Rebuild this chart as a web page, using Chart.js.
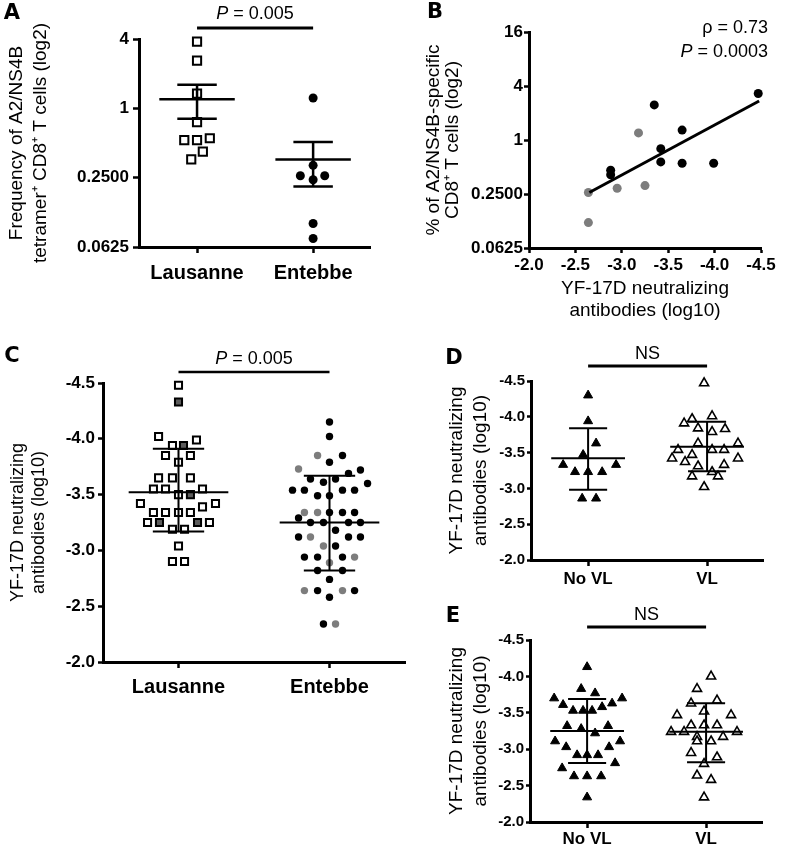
<!DOCTYPE html>
<html>
<head>
<meta charset="utf-8">
<script src="https://cdn.jsdelivr.net/npm/chart.js@4.4.1/dist/chart.umd.min.js"></script>
<style>
  body { margin: 0; background: #fff; width: 785px; height: 846px; position: relative; overflow: hidden; }
  canvas { position: absolute; }
  .panel-letter { position: absolute; font-family: 'DejaVu Sans', sans-serif; font-weight: bold; font-size: 21px; transform: translate(-50%, -50%); }
</style>
</head>
<body>
<canvas id="chartA" width="385" height="300" style="left:0px;top:0px"></canvas>
<canvas id="chartB" width="385" height="326" style="left:400px;top:0px"></canvas>
<canvas id="chartC" width="420" height="380" style="left:0px;top:340px"></canvas>
<canvas id="chartD" width="365" height="255" style="left:420px;top:340px"></canvas>
<canvas id="chartE" width="365" height="248" style="left:420px;top:598px"></canvas>
<div class="panel-letter" style="left:12px;top:12px">A</div>
<div class="panel-letter" style="left:435px;top:11px">B</div>
<div class="panel-letter" style="left:12px;top:355px">C</div>
<div class="panel-letter" style="left:454px;top:357px">D</div>
<div class="panel-letter" style="left:453px;top:615px">E</div>
<script>
// ---- Panel A: frequency of tetramer+ CD8+ T cells ----
const aCategories = ['Lausanne', 'Entebbe'];
const aYTicks = [0.0625, 0.25, 1, 4];
const aYTickLabels = ['0.0625', '0.2500', '1', '4'];
const aLausanneX = [1.0, 1.0, 1.0, 1.0, 0.89, 1.0, 1.11, 1.05, 0.95];
const aLausanneY = [3.8, 2.6, 1.34, 0.76, 0.53, 0.53, 0.55, 0.42, 0.36];
const aEntebbeX = [2.0, 2.0, 1.89, 2.1, 2.0, 2.0, 2.0];
const aEntebbeY = [1.23, 0.32, 0.26, 0.26, 0.24, 0.10, 0.074];
const aMean = [1.2, 0.36];
const aErrHigh = [1.6, 0.51];
const aErrLow = [0.81, 0.21];
const aPValue = ' = 0.005';

// ---- Panel B: correlation ----
const bXTicks = [-2.0, -2.5, -3.0, -3.5, -4.0, -4.5];
const bYTicks = [0.0625, 0.25, 1, 4, 16];
const bYTickLabels = ['0.0625', '0.2500', '1', '4', '16'];
const bBlackX = [-4.47, -3.35, -3.65, -3.42, -3.42, -3.65, -3.99, -2.88, -2.88];
const bBlackY = [3.3, 2.46, 1.29, 0.8, 0.57, 0.55, 0.55, 0.46, 0.41];
const bGrayX = [-3.18, -3.25, -2.95, -2.64, -2.64];
const bGrayY = [1.2, 0.31, 0.29, 0.26, 0.12];
const bFitX = [-2.65, -4.48];
const bFitY = [0.26, 2.72];
const bRho = ' = 0.73';
const bPValue = ' = 0.0003';

// ---- Panel C: neutralizing antibodies by site ----
const cCategories = ['Lausanne', 'Entebbe'];
const nabTicks = [-4.5, -4.0, -3.5, -3.0, -2.5, -2.0];
const cLausOpenX = [1.0, 0.868, 0.96, 1.119, 0.914, 1.079, 1.0, 0.868, 0.96, 1.079, 0.834, 0.914, 1.0, 1.159,
  0.748, 0.834, 0.914, 1.0, 1.079, 1.159, 1.245, 0.795, 1.205, 0.96, 1.04, 1.0, 0.96, 1.04];
const cLausOpenY = [-4.48, -4.02, -3.94, -3.99, -3.85, -3.85, -3.79, -3.65, -3.65, -3.65, -3.55, -3.55, -3.5, -3.55,
  -3.42, -3.34, -3.34, -3.34, -3.34, -3.39, -3.42, -3.25, -3.25, -3.19, -3.19, -3.04, -2.9, -2.9];
const cLausGrayX = [1.0, 1.033, 1.079, 0.874, 1.126];
const cLausGrayY = [-4.33, -3.94, -3.5, -3.25, -3.25];
const cEntBlackX = [2.0, 2.0, 2.086, 2.0, 2.126, 2.205, 1.874, 1.96, 2.04, 2.252, 1.755, 1.834, 2.086, 2.166,
  1.921, 2.0, 2.0, 2.086, 2.166, 1.795, 1.874, 1.96, 2.126, 2.205, 2.04, 1.795, 2.126, 2.205, 2.04, 1.834,
  1.921, 2.086, 1.921, 2.086, 2.0, 1.921, 2.166, 2.0, 1.96];
const cEntBlackY = [-4.15, -4.02, -3.85, -3.79, -3.69, -3.72, -3.64, -3.61, -3.64, -3.6, -3.54, -3.54, -3.54, -3.54,
  -3.49, -3.49, -3.34, -3.34, -3.34, -3.29, -3.25, -3.25, -3.25, -3.25, -3.18, -3.12, -3.12, -3.12, -3.04, -2.94,
  -2.94, -2.94, -2.82, -2.82, -2.74, -2.64, -2.64, -2.58, -2.34];
const cEntGrayX = [1.921, 1.795, 1.834, 1.921, 1.874, 1.96, 2.166, 2.0, 1.834, 2.086, 2.04];
const cEntGrayY = [-3.85, -3.73, -3.34, -3.34, -3.12, -3.04, -2.94, -2.89, -2.64, -2.64, -2.34];
const cMean = [-3.52, -3.25];
const cErrHigh = [-3.91, -3.67];
const cErrLow = [-3.17, -2.82];
const cPValue = ' = 0.005';

// ---- Panel D ----
const vlCategories = ['No VL', 'VL'];
const dNoVlX = [1.0, 1.0, 1.067, 0.958, 0.79, 1.235, 0.89, 1.0, 1.118, 0.95, 1.067];
const dNoVlY = [-4.3, -3.94, -3.63, -3.47, -3.33, -3.33, -3.23, -3.23, -3.23, -2.86, -2.86];
const dVlX = [1.975, 1.807, 1.874, 2.042, 1.924, 2.151, 2.042, 1.924, 2.26, 1.756, 2.042, 2.143, 1.874, 1.706,
  1.815, 2.26, 1.924, 2.143, 1.874, 2.042, 2.092, 1.975];
const dVlY = [-4.47, -3.91, -3.97, -4.01, -3.84, -3.83, -3.79, -3.63, -3.63, -3.54, -3.54, -3.54, -3.47, -3.42,
  -3.37, -3.42, -3.31, -3.33, -3.17, -3.23, -3.17, -3.02];
const dMean = [-3.42, -3.58];
const dErrHigh = [-3.84, -3.93];
const dErrLow = [-2.98, -3.24];

// ---- Panel E ----
const eNoVlX = [1.0, 0.723, 0.95, 1.067, 1.294, 0.798, 0.882, 0.966, 1.042, 1.126, 1.21, 0.832, 0.95, 1.067,
  1.176, 0.731, 1.277, 0.824, 1.185, 0.916, 1.0, 1.092, 0.79, 1.235, 0.89, 1.0, 1.118, 1.0];
const eNoVlY = [-4.13, -3.7, -3.83, -3.77, -3.7, -3.61, -3.53, -3.53, -3.53, -3.58, -3.63, -3.32, -3.28, -3.22,
  -3.32, -3.11, -3.11, -3.03, -3.03, -2.92, -2.92, -2.92, -2.74, -2.81, -2.63, -2.63, -2.63, -2.34];
const eVlX = [2.042, 1.924, 1.874, 2.092, 1.983, 1.756, 2.21, 1.874, 1.983, 2.092, 1.706, 1.815, 2.26, 1.924,
  2.143, 1.924, 2.042, 1.874, 2.092, 1.983, 1.924, 2.042, 1.983];
const eVlY = [-4.0, -3.83, -3.63, -3.67, -3.52, -3.47, -3.47, -3.33, -3.33, -3.33, -3.24, -3.24, -3.24, -3.17,
  -3.17, -3.11, -3.11, -2.95, -2.89, -2.8, -2.64, -2.58, -2.34];
const eMean = [-3.25, -3.24];
const eErrHigh = [-3.69, -3.63];
const eErrLow = [-2.81, -2.82];

const nabTitle = ['YF-17D neutralizing', 'antibodies (log10)'];

// ---- helpers ----
const FONT = "'Liberation Sans', Arial, Helvetica, sans-serif";
Chart.defaults.font.family = FONT;
Chart.defaults.color = '#000';

function pts(xs, ys) {
  return xs.map((x, i) => ({ x: x, y: ys[i] }));
}

function pointSet(xs, ys, style) {
  return Object.assign({ data: pts(xs, ys), order: 1, clip: false, pointHoverRadius: 0 }, style);
}

function segment(data, width) {
  return { data: data, showLine: true, borderColor: '#000', borderWidth: width, pointRadius: 0, order: 0, clip: false };
}

// mean line plus whiskers for each group (group i sits at x = i + 1)
function errorBars(means, hi, lo, halfMean, halfCap, width) {
  const sets = [];
  means.forEach((m, i) => {
    const c = i + 1;
    sets.push(segment([{ x: c - halfMean, y: m }, { x: c + halfMean, y: m }], width));
    sets.push(segment([{ x: c - halfCap, y: hi[i] }, { x: c + halfCap, y: hi[i] }], width));
    sets.push(segment([{ x: c - halfCap, y: lo[i] }, { x: c + halfCap, y: lo[i] }], width));
    sets.push(segment([{ x: c, y: hi[i] }, { x: c, y: lo[i] }], width));
  });
  return sets;
}

const border = { display: true, color: '#000', width: 3 };
function grid(len) {
  return { drawOnChartArea: false, drawTicks: true, tickLength: len, tickWidth: 2.5, tickColor: '#000' };
}

function catAxis(labels, min, max, height, pad, size) {
  return {
    type: 'linear', min: min, max: max,
    afterBuildTicks: s => { s.ticks = labels.map((l, i) => ({ value: i + 1 })); },
    afterFit: s => { s.height = height; },
    ticks: { callback: (v, i) => labels[i], padding: pad, font: { size: size, weight: 'bold' }, maxRotation: 0, autoSkip: false },
    grid: grid(6), border: border
  };
}

function nabAxis(width, fontSize, tickLen, pad, titleSize, lh, titlePad) {
  return {
    type: 'linear', min: -4.5, max: -2.0, reverse: true,
    afterBuildTicks: s => { s.ticks = nabTicks.map(v => ({ value: v })); },
    afterFit: s => { s.width = width; },
    ticks: { callback: v => v.toFixed(1), padding: pad, font: { size: fontSize, weight: 'bold' }, autoSkip: false },
    grid: grid(tickLen), border: border,
    title: { display: true, text: nabTitle, font: { size: titleSize, lineHeight: lh }, padding: { top: titlePad, bottom: 0 } }
  };
}

function drawRich(ctx, parts, x, y, align, size) {
  const fonts = parts.map(p => (p.italic ? 'italic ' : '') + size + 'px ' + FONT);
  const widths = parts.map((p, i) => { ctx.font = fonts[i]; return ctx.measureText(p.text).width; });
  const total = widths.reduce((a, b) => a + b, 0);
  let cx = align === 'center' ? x - total / 2 : (align === 'right' ? x - total : x);
  ctx.textBaseline = 'middle';
  ctx.textAlign = 'left';
  ctx.fillStyle = '#000';
  parts.forEach((p, i) => { ctx.font = fonts[i]; ctx.fillText(p.text, cx, y); cx += widths[i]; });
}

// significance bar between the two groups
function sigBar(parts, lineGap, textGap, lineWidth) {
  return {
    id: 'sigBar',
    afterDraw(chart) {
      const { ctx, chartArea, scales } = chart;
      const x1 = scales.x.getPixelForValue(1);
      const x2 = scales.x.getPixelForValue(2);
      const y = chartArea.top - lineGap;
      ctx.save();
      ctx.strokeStyle = '#000';
      ctx.lineWidth = lineWidth;
      ctx.beginPath();
      ctx.moveTo(x1, y);
      ctx.lineTo(x2, y);
      ctx.stroke();
      drawRich(ctx, parts, (x1 + x2) / 2, y - textGap, 'center', 18);
      ctx.restore();
    }
  };
}

function makeChart(id, datasets, scales, padding, plugins) {
  return new Chart(document.getElementById(id), {
    type: 'scatter',
    data: { datasets: datasets },
    options: {
      responsive: false, animation: false, devicePixelRatio: 1, events: [],
      layout: { padding: padding },
      plugins: { legend: { display: false }, tooltip: { enabled: false } },
      scales: scales
    },
    plugins: plugins || []
  });
}

const openSquare = r => ({ pointStyle: 'rect', pointRadius: r, pointBackgroundColor: '#fff', pointBorderColor: '#000', pointBorderWidth: 2 });
const graySquare = r => ({ pointStyle: 'rect', pointRadius: r, pointBackgroundColor: '#5c5c5c', pointBorderColor: '#000', pointBorderWidth: 2 });
const dot = (r, c) => ({ pointStyle: 'circle', pointRadius: r, pointBackgroundColor: c, pointBorderColor: c, pointBorderWidth: 0 });
const triFilled = { pointStyle: 'triangle', pointRadius: 5.2, pointBackgroundColor: '#000', pointBorderColor: '#000', pointBorderWidth: 1 };
const triOpen = { pointStyle: 'triangle', pointRadius: 5.2, pointBackgroundColor: '#fff', pointBorderColor: '#000', pointBorderWidth: 1.6 };

// ---- A ----
makeChart('chartA',
  [pointSet(aLausanneX, aLausanneY, openSquare(5.8)), pointSet(aEntebbeX, aEntebbeY, dot(4.5, '#000'))]
    .concat(errorBars(aMean, aErrHigh, aErrLow, 0.325, 0.17, 2.5)),
  {
    x: catAxis(aCategories, 0.5, 2.49, 53, 8, 20),
    y: {
      type: 'logarithmic', min: 0.0625, max: 4,
      afterBuildTicks: s => { s.ticks = aYTicks.map(v => ({ value: v })); },
      afterFit: s => { s.width = 139; },
      ticks: { callback: (v, i) => aYTickLabels[i], padding: 4, font: { size: 17, weight: 'bold' }, autoSkip: false },
      grid: grid(6), border: border,
      title: { display: true, text: ['Frequency of A2/NS4B', 'tetramer\u207A CD8\u207A T cells (log2)'], font: { size: 19, lineHeight: 1.25 }, padding: { top: 5, bottom: 0 } }
    }
  },
  { top: 39, right: 15, left: 0, bottom: 0 },
  [sigBar([{ text: 'P', italic: true }, { text: aPValue }], 11, 14, 3)]
);

// ---- B ----
makeChart('chartB',
  [segment(pts(bFitX, bFitY), 3),
   pointSet(bBlackX, bBlackY, dot(4.5, '#000')), pointSet(bGrayX, bGrayY, dot(4.5, '#7d7d7d'))],
  {
    x: {
      type: 'linear', min: -4.5, max: -2.0, reverse: true,
      afterBuildTicks: s => { s.ticks = bXTicks.map(v => ({ value: v })); },
      afterFit: s => { s.height = 78; },
      ticks: { callback: v => v.toFixed(1), padding: 2, font: { size: 17, weight: 'bold' }, maxRotation: 0, autoSkip: false },
      grid: grid(5), border: border,
      title: { display: true, text: nabTitle, font: { size: 19, lineHeight: 1.15 }, padding: { top: 0, bottom: 4 } }
    },
    y: {
      type: 'logarithmic', min: 0.0625, max: 16,
      afterBuildTicks: s => { s.ticks = bYTicks.map(v => ({ value: v })); },
      afterFit: s => { s.width = 129; },
      ticks: { callback: (v, i) => bYTickLabels[i], padding: 1, font: { size: 17, weight: 'bold' }, autoSkip: false },
      grid: grid(5), border: border,
      title: { display: true, text: ['% of A2/NS4B-specific', 'CD8\u207A T cells (log2)'], font: { size: 19, lineHeight: 1.0 }, padding: { top: 24, bottom: 0 } }
    }
  },
  { top: 32, right: 24, left: 0, bottom: 0 },
  [{
    id: 'stats',
    afterDraw(chart) {
      const { ctx, chartArea } = chart;
      ctx.save();
      drawRich(ctx, [{ text: '\u03C1' }, { text: bRho }], chartArea.right + 7, chartArea.top - 4, 'right', 18);
      drawRich(ctx, [{ text: 'P', italic: true }, { text: bPValue }], chartArea.right + 7, chartArea.top + 20, 'right', 18);
      ctx.restore();
    }
  }]
);

// ---- C ----
makeChart('chartC',
  [pointSet(cLausOpenX, cLausOpenY, openSquare(5)), pointSet(cLausGrayX, cLausGrayY, graySquare(5)),
   pointSet(cEntBlackX, cEntBlackY, dot(3.7, '#000')), pointSet(cEntGrayX, cEntGrayY, dot(3.7, '#7d7d7d'))]
    .concat(errorBars(cMean, cErrHigh, cErrLow, 0.33, 0.17, 2)),
  {
    x: catAxis(cCategories, 0.5, 2.5, 58, 7, 20),
    y: nabAxis(103, 17, 5, 3, 18, 1.2, 7)
  },
  { top: 43, right: 15, left: 0, bottom: 0 },
  [sigBar([{ text: 'P', italic: true }, { text: cPValue }], 11, 13, 2.5)]
);

// ---- D ----
makeChart('chartD',
  [pointSet(dNoVlX, dNoVlY, triFilled), pointSet(dVlX, dVlY, triOpen)]
    .concat(errorBars(dMean, dErrHigh, dErrLow, 0.31, 0.16, 2)),
  {
    x: catAxis(vlCategories, 0.52, 2.47, 35, 3, 17),
    y: nabAxis(111, 15, 4, 2, 19, 1.25, 25)
  },
  { top: 41, right: 22, left: 0, bottom: 0 },
  [sigBar([{ text: 'NS' }], 15, 12, 3)]
);

// ---- E ----
makeChart('chartE',
  [pointSet(eNoVlX, eNoVlY, triFilled), pointSet(eVlX, eVlY, triOpen)]
    .concat(errorBars(eMean, eErrHigh, eErrLow, 0.31, 0.16, 2)),
  {
    x: catAxis(vlCategories, 0.52, 2.47, 24, 1, 17),
    y: nabAxis(110, 15, 4, 2, 19, 1.25, 25)
  },
  { top: 42, right: 23, left: 0, bottom: 0 },
  [sigBar([{ text: 'NS' }], 13, 12, 3)]
);
</script>
</body>
</html>
